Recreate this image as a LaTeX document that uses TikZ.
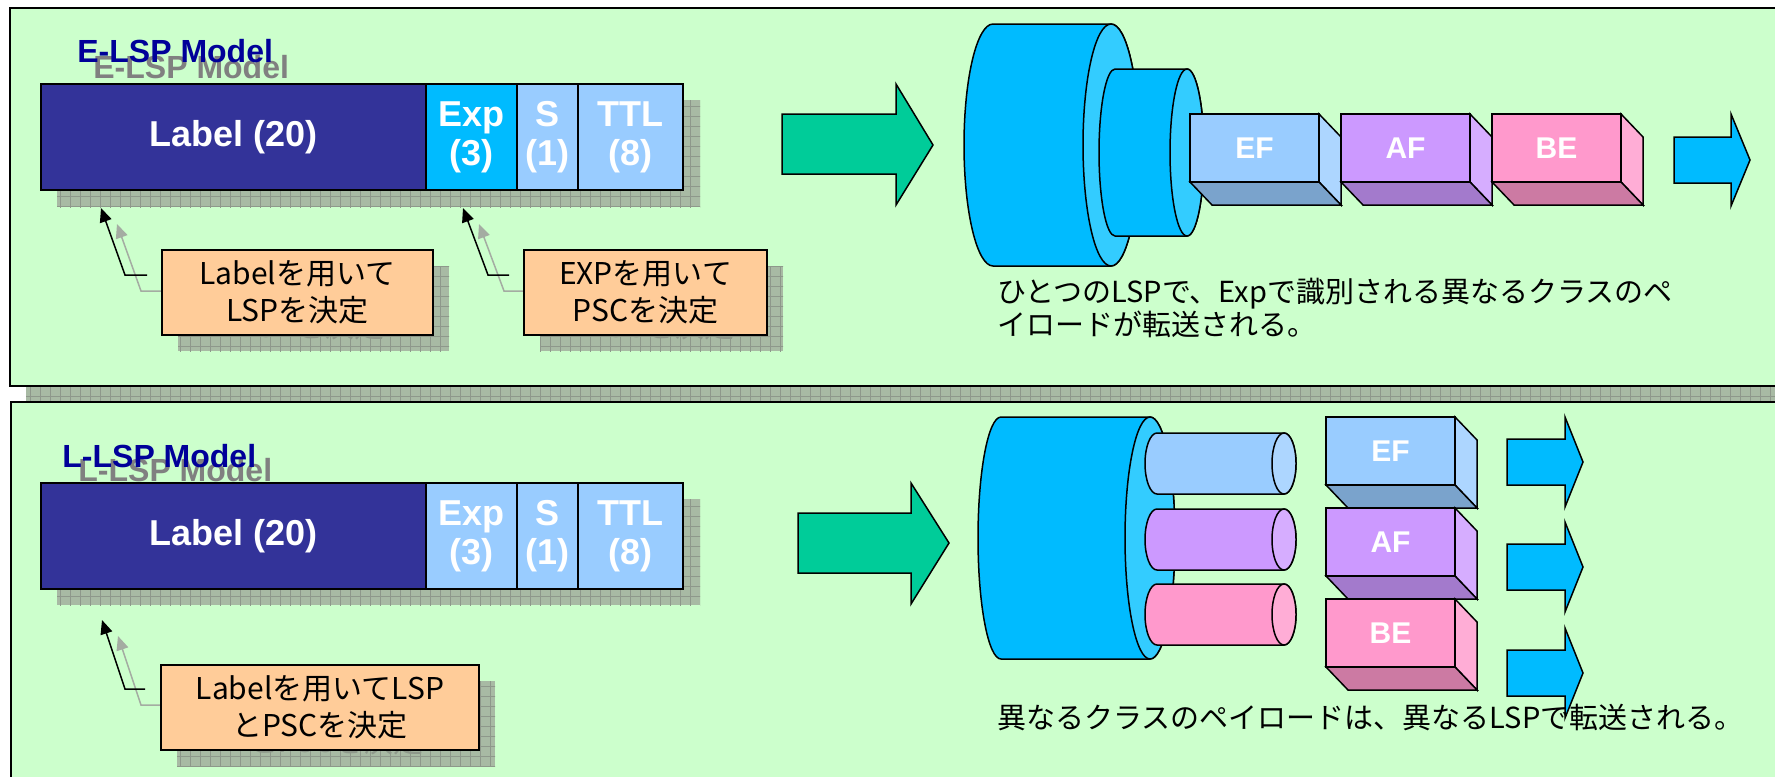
\documentclass[tikz,border=0pt]{standalone}
\usepackage{fontspec}
\setmainfont{Liberation Sans}
\newfontfamily\jpfont{Noto Sans CJK JP}
\usepackage{tikz}
\usetikzlibrary{arrows.meta,patterns.meta}

\definecolor{panelgreen}{HTML}{CCFFCC}
\definecolor{titleblue}{HTML}{000099}
\definecolor{labelblue}{HTML}{333399}
\definecolor{cyanblue}{HTML}{00BBFF}
\definecolor{faceblue}{HTML}{33CCFF}
\definecolor{efblue}{HTML}{99CCFF}
\definecolor{afpurple}{HTML}{CC99FF}
\definecolor{bepink}{HTML}{FF99CC}
\definecolor{calloutorange}{HTML}{FFCC99}
\definecolor{arrowgreen}{HTML}{00CC99}
\definecolor{shadowfill}{HTML}{A8BAA4}
\definecolor{gridgray}{HTML}{8E988B}
\definecolor{ghostgray}{HTML}{808080}
\definecolor{ghostline}{HTML}{A4ACA2}

\tikzset{
  panel/.style={draw=black, line width=1pt, fill=panelgreen},
  stipple/.style={fill=shadowfill,
    postaction={pattern={Lines[angle=0,distance=5pt,line width=.4pt]}, pattern color=gridgray},
    postaction={pattern={Lines[angle=90,distance=5pt,line width=.4pt]}, pattern color=gridgray}},
  title/.style={anchor=base west, inner sep=0pt, text=titleblue,
    font=\bfseries\fontsize{16}{19}\selectfont},
  field/.style={draw, line width=.75pt, anchor=north west, inner sep=0pt, outer sep=0pt,
    minimum height=53pt, align=center, text=white,
    font=\bfseries\fontsize{18}{19.5}\selectfont},
  callout/.style={draw, line width=.75pt, fill=calloutorange, anchor=north west,
    inner sep=0pt, outer sep=0pt, minimum height=42.5pt, align=center,
    font=\jpfont\fontsize{15}{18.5}\selectfont},
  shadowbox/.style={draw=none, stipple, text=gridgray},
  pointer/.style={line width=.75pt, -{Triangle[length=7pt,width=6pt]}},
  block/.style={draw, line width=.75pt},
  qbox/.style={draw, line width=.75pt, anchor=north west, inner sep=0pt, outer sep=0pt,
    minimum width=64.5pt, minimum height=34pt, text=white,
    font=\bfseries\fontsize{15}{18}\selectfont},
  note/.style={inner sep=0pt, align=left, font=\jpfont\fontsize{14.5}{15.5}\selectfont},
}

\begin{document}
\begin{tikzpicture}[x=0.5pt, y=-0.5pt]
  \useasboundingbox (0,0) rectangle (1775,776);
  \clip (0,0) rectangle (1775,776);
  % Sizes
  \pgfmathsetmacro{\qdx}{22}
  \pgfmathsetmacro{\qdy}{23}
  \pgfmathsetmacro{\qw}{129}
  \pgfmathsetmacro{\qh}{68}

  % panels
  \fill[stipple] (26,24) rectangle (1800,402);
  \draw[panel] (10,8) rectangle (1800,386);
  \draw[panel] (11,402) rectangle (1800,800);

  %%%%% E-LSP model %%%%%
  % title
  \node[title, text=ghostgray] (etitleg) at (93,78) {E-LSP Model};
  \node[title] (etitle) at (77,62) {E-LSP Model};

  % header fields
  \fill[stipple] (57,100) rectangle (700,207);
  \node[field, fill=labelblue, minimum width=192.5pt] (elabel) at (41,84) {Label (20)};
  \node[field, fill=cyanblue, minimum width=45.5pt] (eexp) at (elabel.north east) {Exp\\(3)};
  \node[field, fill=efblue, minimum width=30.5pt] (es) at (eexp.north east) {S\\(1)};
  \node[field, fill=efblue, minimum width=52.5pt] (ettl) at (es.north east) {TTL\\(8)};

  % callouts
  \node[callout, shadowbox, minimum width=135.5pt] (ecallag) at (178,266) {Labelを用いて\\LSPを決定};
  \node[callout, shadowbox, minimum width=121.5pt] (ecallbg) at (540,266) {EXPを用いて\\PSCを決定};
  \draw[pointer, draw=ghostline] ([yshift=-12.5pt]ecallag.north west) -- ++(-37,0) -- ([shift={(76,34)}]elabel.south west);
  \draw[pointer, draw=ghostline] ([yshift=-12.5pt]ecallbg.north west) -- ++(-36,0) -- ([shift={(53,34)}]eexp.south west);
  \node[callout, minimum width=135.5pt] (ecalla) at (162,250) {Labelを用いて\\LSPを決定};
  \node[callout, minimum width=121.5pt] (ecallb) at (524,250) {EXPを用いて\\PSCを決定};
  \draw[pointer, shorten <=7.5pt] ([yshift=-12.5pt]ecalla.north west) -- ++(-37,0) -- ([shift={(60,18)}]elabel.south west);
  \draw[pointer, shorten <=7.5pt] ([yshift=-12.5pt]ecallb.north west) -- ++(-36,0) -- ([shift={(37,18)}]eexp.south west);

  % in arrow
  \draw[block, fill=arrowgreen] (782,114) -- (896,114) -- (896,84) -- (933,145)
    -- (896,205) -- (896,174) -- (782,174) -- cycle;

  % one LSP
  \draw[block, fill=cyanblue] (993,24) -- (1111,24)
    arc[start angle=-90, end angle=90, x radius=28, y radius=121] -- (993,266)
    arc[start angle=90, end angle=270, x radius=29, y radius=121] -- cycle;
  \draw[block, fill=faceblue] (1111,145) ellipse [x radius=28, y radius=121];
  \draw[block, fill=cyanblue] (1115,69) -- (1187,69)
    arc[start angle=-90, end angle=90, x radius=17, y radius=83.5] -- (1115,236)
    arc[start angle=90, end angle=270, x radius=16, y radius=83.5] -- cycle;
  \draw[block, fill=faceblue] (1187,152.5) ellipse [x radius=17, y radius=83.5];

  % queued classes
  \foreach \cls/\col [count=\i from 0] in {EF/efblue, AF/afpurple, BE/bepink} {
    \node[qbox, fill=\col] (e\cls) at ({1190+151*\i},114) {\cls};
    \draw[block, fill=\col!80!white] (e\cls.north east) -- ++(\qdx,\qdy) -- ++(0,\qh) -- (e\cls.south east) -- cycle;
    \draw[block, fill=\col!80!black] (e\cls.south west) -- (e\cls.south east) -- ++(\qdx,\qdy) -- ++(-\qw,0) -- cycle;
  }

  % out arrow
  \draw[block, fill=cyanblue] (1674,137) -- (1731,137) -- (1731,114) -- (1750,160)
    -- (1731,206) -- (1731,183) -- (1674,183) -- cycle;

  \node[note, anchor=north west] (enote) at (997,278)
    {ひとつのLSPで、Expで識別される異なるクラスのペ\\イロードが転送される。};

  %%%%% L-LSP model %%%%%
  % title
  \node[title, text=ghostgray] (ltitleg) at (78,481) {L-LSP Model};
  \node[title] (ltitle) at (62,467) {L-LSP Model};

  % header fields
  \fill[stipple] (57,499) rectangle (700,605);
  \node[field, fill=labelblue, minimum width=192.5pt] (llabel) at (41,483) {Label (20)};
  \node[field, fill=efblue, minimum width=45.5pt] (lexp) at (llabel.north east) {Exp\\(3)};
  \node[field, fill=efblue, minimum width=30.5pt] (ls) at (lexp.north east) {S\\(1)};
  \node[field, fill=efblue, minimum width=52.5pt] (lttl) at (ls.north east) {TTL\\(8)};

  % callout
  \node[callout, shadowbox, minimum width=159pt] (lcallg) at (177,681) {Labelを用いてLSP\\とPSCを決定};
  \draw[pointer, draw=ghostline] ([yshift=-12pt]lcallg.north west) -- ++(-36,0) -- ([shift={(77,47)}]llabel.south west);
  \node[callout, minimum width=159pt] (lcall) at (161,665) {Labelを用いてLSP\\とPSCを決定};
  \draw[pointer, shorten <=8pt] ([yshift=-12pt]lcall.north west) -- ++(-36,0) -- ([shift={(61,31)}]llabel.south west);

  % in arrow
  \draw[block, fill=arrowgreen] (798,513) -- (911,513) -- (911,483) -- (949,543)
    -- (911,604) -- (911,573) -- (798,573) -- cycle;

  % one LSP per class
  \draw[block, fill=cyanblue] (1001,417) -- (1150,417)
    arc[start angle=-90, end angle=90, x radius=25, y radius=121] -- (1001,659)
    arc[start angle=90, end angle=270, x radius=23, y radius=121] -- cycle;
  \draw[block, fill=faceblue] (1150,538) ellipse [x radius=25, y radius=121];
  \foreach \col/\cy in {efblue/463.5, afpurple/539.5, bepink/614.5} {
    \draw[block, fill=\col] (1157,\cy-30.5) -- (1284,\cy-30.5)
      arc[start angle=-90, end angle=90, x radius=12, y radius=30.5] -- (1157,\cy+30.5)
      arc[start angle=90, end angle=270, x radius=12, y radius=30.5] -- cycle;
    \draw[block, fill=\col!80!white] (1284,\cy) ellipse [x radius=12, y radius=30.5];
  }

  % classes
  \foreach \cls/\col [count=\i from 0] in {EF/efblue, AF/afpurple, BE/bepink} {
    \node[qbox, fill=\col] (l\cls) at (1326,{417+91*\i}) {\cls};
    \draw[block, fill=\col!80!white] (l\cls.north east) -- ++(\qdx,\qdy) -- ++(0,\qh) -- (l\cls.south east) -- cycle;
    \draw[block, fill=\col!80!black] (l\cls.south west) -- (l\cls.south east) -- ++(\qdx,\qdy) -- ++(-\qw,0) -- cycle;
  }

  % out arrows
  \foreach \y in {462, 567, 673} {
    \draw[block, fill=cyanblue] (1507,\y-23) -- (1565,\y-23) -- (1565,\y-45) -- (1583,\y)
      -- (1565,\y+45) -- (1565,\y+23) -- (1507,\y+23) -- cycle;
  }

  \node[note, anchor=base west] (lnote) at (997,728)
    {異なるクラスのペイロードは、異なるLSPで転送される。};
\end{tikzpicture}
\end{document}
